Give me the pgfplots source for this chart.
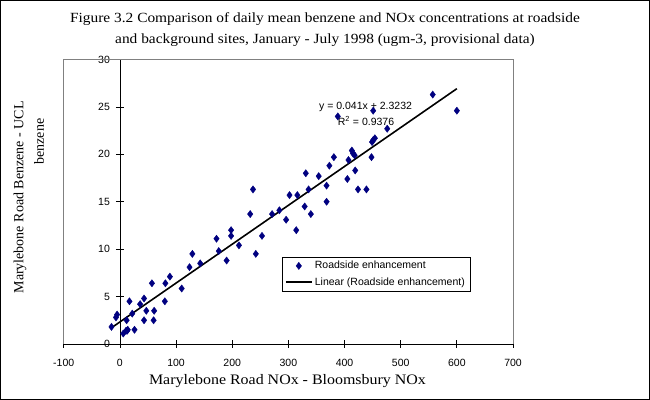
\documentclass[border=0pt]{standalone}
\usepackage{fontspec}
\setmainfont{Liberation Serif}
\newfontfamily\gara[FakeStretch=1.1]{Liberation Serif}
\newfontfamily\arial{Liberation Sans}
\usepackage{pgfplots}
\pgfplotsset{compat=1.18}
\definecolor{navy}{RGB}{0,0,128}
\definecolor{boxgray}{RGB}{128,128,128}
\begin{document}
\begin{tikzpicture}
\begin{axis}[
  scale only axis, width=449.3pt, height=284.5pt,
  xmin=-100, xmax=700, ymin=0, ymax=30,
  axis lines=middle, axis line style={-, black, line width=0.8pt},
  hide obscured x ticks=false, hide obscured y ticks=false,
  xtick={-100,0,...,700}, ytick={0,5,...,30},
  tick align=center, major tick length=8pt, tick style={black, line width=0.8pt},
  /pgf/number format/assume math mode=true,
  ticklabel style={font=\arial\fontsize{10.5}{12}\selectfont},
  xticklabel style={yshift=-7.5pt},
  yticklabel style={xshift=-2.5pt},
  clip=false,
  legend style={at={(rel axis cs:0.485,0.307)}, anchor=north west, draw=black,
    font=\arial\fontsize{10.5}{12}\selectfont, legend cell align=left, row sep=3.5pt, inner xsep=3pt, inner ysep=2.5pt},
  legend image code/.code={\draw[mark repeat=2,mark phase=2,#1] plot coordinates {(0pt,0pt) (13pt,0pt) (26pt,0pt)};},
]
\draw[boxgray, line width=0.8pt] (rel axis cs:0,0) -- (rel axis cs:0,1) -- (rel axis cs:1,1) -- (rel axis cs:1,0);
\addplot[only marks, mark=diamond*, mark size=3.6pt, navy, mark options={fill=navy, draw=navy, line width=0.4pt}] coordinates {
(-15,1.8) (-7,2.8) (-5,3.1) (6,1.1) (11,1.4) (13,1.4) (14,1.5) (26,1.5) (12,2.5) (22,3.2)
(17,4.5) (36,4.2) (43,4.8) (47,3.5) (43,2.5) (61,3.5) (60,2.5) (57,6.4) (80,4.5) (81,6.4)
(89,7.1) (110,5.85) (124,8.1) (129,9.5) (143,8.5) (172,11.1) (176,9.8) (190,8.8) (198,12.0) (198,11.4)
(212,10.4) (237,16.3) (232,13.7) (242,9.5) (253,11.4) (271,13.7) (284,14.1) (296,13.1) (302,15.7) (314,12.0)
(316,15.7) (329,14.5) (331,18.0) (336,16.3) (340,13.7) (354,17.7) (368,16.7) (368,15.0) (373,18.8) (381,19.7)
(388,24.0) (405,17.4) (407,19.4) (413,20.4) (415,20.1) (418,19.9) (419,18.3) (424,16.3) (439,16.3) (448,19.7)
(449,21.3) (451,21.5) (454,21.7) (451,24.6) (476,22.7) (557,26.3) (600,24.6)
};
\addlegendentry{Roadside enhancement}
\addplot[black, line width=1.6pt, no marks, forget plot] coordinates {(-15,1.7082) (600,26.9232)};
\addlegendimage{no markers, black, line width=2pt}
\addlegendentry{Linear (Roadside enhancement)}
\node[align=center, font=\gara\fontsize{14}{21}\selectfont] at ([xshift=261.25pt, yshift=314.5pt]rel axis cs:0,0)
  {Figure 3.2 Comparison of daily mean benzene and NOx concentrations at roadside\\and background sites, January - July 1998 (ugm-3, provisional data)};
\node[font=\gara\fontsize{14.5}{16}\selectfont] at ([xshift=223.75pt, yshift=-37.5pt]rel axis cs:0,0) {Marylebone Road NOx - Bloomsbury NOx};
\node[font=\fontsize{14}{16}\selectfont, rotate=90, anchor=west] at ([xshift=-43.75pt, yshift=47pt]rel axis cs:0,0) {Marylebone Road Benzene - UCL};
\node[font=\fontsize{14}{16}\selectfont, rotate=90, anchor=west] at ([xshift=-24.75pt, yshift=176pt]rel axis cs:0,0) {benzene};
\node[font=\arial\fontsize{10.5}{12}\selectfont, anchor=west, inner sep=0pt] at ([xshift=255.25pt, yshift=236.7pt]rel axis cs:0,0) {y = 0.041x + 2.3232};
\node[font=\arial\fontsize{10.5}{12}\selectfont, anchor=west, inner sep=0pt] at ([xshift=273.95pt, yshift=223pt]rel axis cs:0,0) {R\textsuperscript{2} = 0.9376};
\draw[black, line width=1pt] ([xshift=-63.25pt, yshift=-55.5pt]rel axis cs:0,0) rectangle ([xshift=136.5pt, yshift=59pt]rel axis cs:1,1);
\end{axis}
\end{tikzpicture}
\end{document}
